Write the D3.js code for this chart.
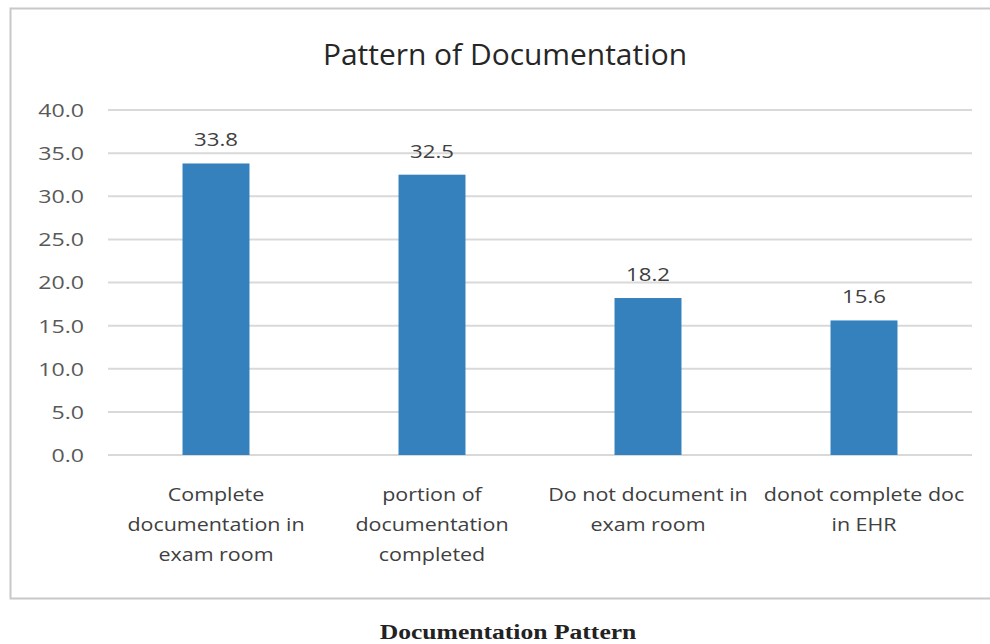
<!DOCTYPE html>
<html><head><meta charset="utf-8">
<script src="https://cdn.jsdelivr.net/npm/d3@7"></script>
<style>body{margin:0;background:#fff}svg{display:block}</style>
</head><body>
<svg id="c" width="990" height="644"></svg>
<script>
const categories = [
  ["Complete", "documentation in", "exam room"],
  ["portion of", "documentation", "completed"],
  ["Do not document in", "exam room"],
  ["donot complete doc", "in EHR"]
];
const values = [33.8, 32.5, 18.2, 15.6];
const yTicks = [0, 5, 10, 15, 20, 25, 30, 35, 40];
const title = "Pattern of Documentation";
const caption = "Documentation Pattern";

const svg = d3.select("#c");
const font = "'Open Sans', sans-serif";

// frame
svg.append("rect").attr("x", 10.5).attr("y", 8.5).attr("width", 990).attr("height", 590)
  .attr("fill", "#fff").attr("stroke", "#c8c8c8").attr("stroke-width", 2);

const x = d3.scaleBand().domain(d3.range(categories.length)).range([108, 972]).paddingInner(0.69).paddingOuter(0.345);
const y = d3.scaleLinear().domain([0, 40]).range([455, 110]);

// grid
svg.append("g").selectAll("line").data(yTicks).join("line")
  .attr("x1", 108).attr("x2", 972)
  .attr("y1", d => y(d)).attr("y2", d => y(d))
  .attr("stroke", "#d9d9d9").attr("stroke-width", 2);

// y axis labels
const yAxis = d3.axisLeft(y).tickValues(yTicks).tickFormat(d3.format(".1f")).tickSize(0).tickPadding(0);
const ga = svg.append("g").attr("transform", "translate(84,0)").call(yAxis);
ga.select(".domain").remove();
ga.selectAll("text").attr("font-family", font).attr("font-size", 18.5).attr("fill", "#595959")
  .attr("dy", "0.35em").attr("transform", "scale(1.25,1)");

// bars
svg.append("g").selectAll("rect").data(values).join("rect")
  .attr("x", (d, i) => x(i)).attr("width", x.bandwidth())
  .attr("y", d => y(d)).attr("height", d => y(0) - y(d))
  .attr("fill", "#3581bd");

// value labels
svg.append("g").selectAll("text").data(values).join("text")
  .attr("transform", (d, i) => `translate(${x(i) + x.bandwidth() / 2},${y(d) - 17}) scale(1.2,1)`)
  .attr("text-anchor", "middle").attr("font-family", font).attr("font-size", 18.5).attr("fill", "#404040")
  .text(d => d.toFixed(1));

// category labels
const cg = svg.append("g").selectAll("text").data(categories).join("text")
  .attr("transform", (d, i) => `translate(${x(i) + x.bandwidth() / 2},0) scale(1.16,1)`)
  .attr("text-anchor", "middle").attr("font-family", font).attr("font-size", 18.5).attr("fill", "#404040");
cg.each(function(lines) {
  d3.select(this).selectAll("tspan").data(lines).join("tspan")
    .attr("x", 0).attr("y", (l, j) => 501 + j * 30).text(l => l);
});

// title
svg.append("text").attr("transform", "translate(505,65) scale(1.05,1)").attr("text-anchor", "middle")
  .attr("font-family", font).attr("font-size", 28.5).attr("fill", "#262626").text(title);

// caption
svg.append("text").attr("transform", "translate(508,639) scale(1.22,1)").attr("text-anchor", "middle")
  .attr("font-family", "'Liberation Serif', serif").attr("font-weight", "bold").attr("font-size", 21).attr("fill", "#222").text(caption);
</script>
</body></html>
